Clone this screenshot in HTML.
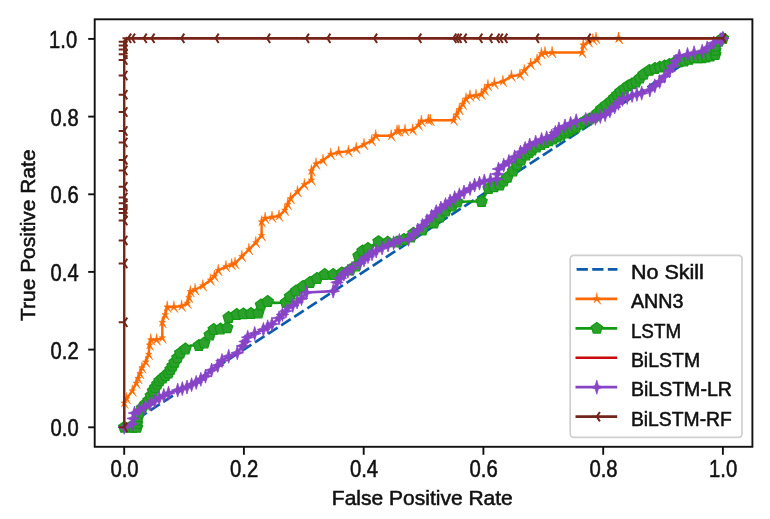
<!DOCTYPE html>
<html><head><meta charset="utf-8"><style>
html,body{margin:0;padding:0;background:#fff;}
body{width:770px;height:519px;overflow:hidden;font-family:"Liberation Sans",sans-serif;}
svg{display:block;filter:blur(0.35px);}
</style></head><body>
<svg width="770" height="519" viewBox="0 0 770 519">
<defs>
<polygon id="mStar" points="0.0,-6.2 0.9,-1.2 3.2,-1.1 1.4,0.5 4.0,5.5 0.0,1.5 -2.8,3.9 -1.4,0.5 -3.2,-1.1 -0.9,-1.2" fill="#ff6a00" stroke="#ff6a00" stroke-width="0.5" stroke-linejoin="round"/>
<polygon id="mPent" points="0.0,-5.9 5.6,-1.8 3.5,4.8 -3.5,4.8 -5.6,-1.8" fill="#2ca02c" stroke="#139a13" stroke-width="1.2"/>
<polygon id="mPlus" points="0,-7 1.6,-1.6 6.3,0 1.6,1.6 0,7 -1.6,1.6 -6.3,0 -1.6,-1.6" fill="#8844c6" stroke="#8844c6" stroke-width="0.8" stroke-linejoin="round"/>
<path id="mTriL" d="M0,0 L-5.5,0 M0,0 L3.1,-4.7 M0,0 L3.1,4.7" stroke="#72261a" stroke-width="2.0" fill="none"/>
</defs>
<rect width="770" height="519" fill="#fff"/>
<line x1="124.2" y1="427.3" x2="722.9" y2="38.3" stroke="#0d5bab" stroke-width="2.7" stroke-dasharray="11.3,4.3"/>
<polyline points="124.2,427.3 124.2,403.0 126.6,398.6 132.3,390.9 136.2,383.2 140.0,373.5 142.0,367.8 145.8,362.0 148.7,354.3 149.5,345.0 150.8,339.8 156.6,339.8 162.3,337.9 162.3,322.4 165.2,314.7 167.2,307.0 173.9,307.0 181.6,306.1 187.4,303.2 190.3,291.6 195.1,289.7 202.8,285.8 210.5,280.0 214.4,276.2 218.2,270.4 225.9,266.6 231.7,264.6 235.0,263.4 241.9,256.5 248.9,249.5 255.8,242.6 261.6,235.6 261.6,221.8 265.1,218.3 272.0,217.1 279.0,216.0 284.8,210.2 290.6,198.6 297.5,191.7 304.4,184.7 311.4,180.1 311.4,170.8 316.0,163.9 323.0,160.4 330.8,154.3 338.6,152.3 348.4,151.4 356.2,148.4 364.0,144.5 371.8,140.7 375.7,135.8 391.2,135.8 397.1,130.9 412.7,129.9 418.5,125.1 421.4,121.2 428.3,120.2 453.6,120.2 459.4,109.5 466.0,99.0 470.0,96.0 476.0,95.5 481.4,94.3 487.9,85.7 494.3,83.6 502.9,81.4 511.4,76.1 520.0,75.0 524.3,70.7 530.7,64.3 537.1,60.0 541.4,53.6 552.1,52.5 582.1,52.5 583.2,45.0 588.6,41.8 592.9,39.6 596.0,38.3 618.6,38.3 722.9,38.3" fill="none" stroke="#ff6a00" stroke-width="2.4" stroke-linejoin="round"/>
<use href="#mStar" x="124.2" y="427.3"/><use href="#mStar" x="124.2" y="403.0"/><use href="#mStar" x="126.6" y="398.6"/><use href="#mStar" x="132.3" y="390.9"/><use href="#mStar" x="136.2" y="383.2"/><use href="#mStar" x="138.1" y="378.4"/><use href="#mStar" x="140.0" y="373.5"/><use href="#mStar" x="142.0" y="367.8"/><use href="#mStar" x="145.8" y="362.0"/><use href="#mStar" x="148.7" y="354.3"/><use href="#mStar" x="149.5" y="345.0"/><use href="#mStar" x="150.8" y="339.8"/><use href="#mStar" x="156.6" y="339.8"/><use href="#mStar" x="162.3" y="337.9"/><use href="#mStar" x="162.3" y="322.4"/><use href="#mStar" x="165.2" y="314.7"/><use href="#mStar" x="167.2" y="307.0"/><use href="#mStar" x="173.9" y="307.0"/><use href="#mStar" x="181.6" y="306.1"/><use href="#mStar" x="187.4" y="303.2"/><use href="#mStar" x="188.9" y="297.4"/><use href="#mStar" x="190.3" y="291.6"/><use href="#mStar" x="195.1" y="289.7"/><use href="#mStar" x="202.8" y="285.8"/><use href="#mStar" x="210.5" y="280.0"/><use href="#mStar" x="214.4" y="276.2"/><use href="#mStar" x="218.2" y="270.4"/><use href="#mStar" x="225.9" y="266.6"/><use href="#mStar" x="231.7" y="264.6"/><use href="#mStar" x="235.0" y="263.4"/><use href="#mStar" x="241.9" y="256.5"/><use href="#mStar" x="248.9" y="249.5"/><use href="#mStar" x="255.8" y="242.6"/><use href="#mStar" x="261.6" y="235.6"/><use href="#mStar" x="261.6" y="221.8"/><use href="#mStar" x="265.1" y="218.3"/><use href="#mStar" x="272.0" y="217.1"/><use href="#mStar" x="279.0" y="216.0"/><use href="#mStar" x="284.8" y="210.2"/><use href="#mStar" x="287.7" y="204.4"/><use href="#mStar" x="290.6" y="198.6"/><use href="#mStar" x="297.5" y="191.7"/><use href="#mStar" x="304.4" y="184.7"/><use href="#mStar" x="311.4" y="180.1"/><use href="#mStar" x="311.4" y="170.8"/><use href="#mStar" x="316.0" y="163.9"/><use href="#mStar" x="323.0" y="160.4"/><use href="#mStar" x="330.8" y="154.3"/><use href="#mStar" x="338.6" y="152.3"/><use href="#mStar" x="348.4" y="151.4"/><use href="#mStar" x="356.2" y="148.4"/><use href="#mStar" x="364.0" y="144.5"/><use href="#mStar" x="371.8" y="140.7"/><use href="#mStar" x="375.7" y="135.8"/><use href="#mStar" x="391.2" y="135.8"/><use href="#mStar" x="397.1" y="130.9"/><use href="#mStar" x="412.7" y="129.9"/><use href="#mStar" x="418.5" y="125.1"/><use href="#mStar" x="421.4" y="121.2"/><use href="#mStar" x="428.3" y="120.2"/><use href="#mStar" x="453.6" y="120.2"/><use href="#mStar" x="456.5" y="114.8"/><use href="#mStar" x="459.4" y="109.5"/><use href="#mStar" x="462.7" y="104.2"/><use href="#mStar" x="466.0" y="99.0"/><use href="#mStar" x="470.0" y="96.0"/><use href="#mStar" x="476.0" y="95.5"/><use href="#mStar" x="481.4" y="94.3"/><use href="#mStar" x="484.6" y="90.0"/><use href="#mStar" x="487.9" y="85.7"/><use href="#mStar" x="494.3" y="83.6"/><use href="#mStar" x="502.9" y="81.4"/><use href="#mStar" x="511.4" y="76.1"/><use href="#mStar" x="520.0" y="75.0"/><use href="#mStar" x="524.3" y="70.7"/><use href="#mStar" x="530.7" y="64.3"/><use href="#mStar" x="537.1" y="60.0"/><use href="#mStar" x="541.4" y="53.6"/><use href="#mStar" x="552.1" y="52.5"/><use href="#mStar" x="582.1" y="52.5"/><use href="#mStar" x="583.2" y="45.0"/><use href="#mStar" x="588.6" y="41.8"/><use href="#mStar" x="592.9" y="39.6"/><use href="#mStar" x="596.0" y="38.3"/><use href="#mStar" x="618.6" y="38.3"/><use href="#mStar" x="722.9" y="38.3"/><use href="#mStar" x="430.3" y="120.2"/><use href="#mStar" x="399.0" y="130.9"/><use href="#mStar" x="405.0" y="130.4"/><use href="#mStar" x="545.0" y="52.5"/><use href="#mStar" x="618.6" y="38.3"/>
<polyline points="124.2,427.3 130.0,427.3 137.0,427.3 137.0,420.0 139.0,413.0 142.0,408.0 148.5,400.5 153.0,391.0 159.5,380.8 168.4,373.1 174.6,362.4 180.2,353.1 185.4,349.0 191.0,345.5 198.9,345.5 204.3,343.0 209.7,335.0 213.7,329.5 220.5,329.0 227.2,327.8 228.6,317.5 236.7,314.5 243.4,313.8 251.0,313.5 258.3,313.0 261.0,305.0 267.7,301.5 275.0,302.8 285.9,302.5 290.0,296.5 296.0,291.0 303.0,286.5 310.0,282.5 317.0,278.5 324.7,274.5 333.2,274.5 341.7,273.0 350.0,270.0 356.0,266.0 358.5,256.0 362.5,251.0 368.0,248.5 378.5,241.6 387.7,242.2 397.0,242.0 410.8,237.0 413.5,233.2 422.4,230.0 433.9,223.1 445.5,211.0 452.0,206.0 457.3,202.0 469.0,201.5 481.6,201.5 488.6,188.5 499.7,185.1 507.4,177.4 513.0,171.0 517.0,165.0 521.0,160.0 526.0,155.0 532.0,150.0 541.0,144.5 553.0,139.0 565.0,133.0 576.0,127.0 585.0,121.0 594.0,117.0 601.2,109.0 610.9,101.2 620.5,91.6 628.2,85.8 635.9,82.0 643.6,74.3 649.4,70.4 655.0,68.5 664.6,66.0 674.4,62.7 684.2,61.0 694.1,57.8 702.2,57.8 710.4,56.1 715.3,54.5 715.3,46.3 718.6,41.4 722.9,38.3" fill="none" stroke="#139a13" stroke-width="2.7" stroke-linejoin="round"/>
<use href="#mPent" x="124.2" y="427.3"/><use href="#mPent" x="130.0" y="427.3"/><use href="#mPent" x="133.5" y="427.3"/><use href="#mPent" x="137.0" y="427.3"/><use href="#mPent" x="137.0" y="423.6"/><use href="#mPent" x="137.0" y="420.0"/><use href="#mPent" x="138.0" y="416.5"/><use href="#mPent" x="139.0" y="413.0"/><use href="#mPent" x="142.0" y="408.0"/><use href="#mPent" x="145.2" y="404.2"/><use href="#mPent" x="148.5" y="400.5"/><use href="#mPent" x="150.8" y="395.8"/><use href="#mPent" x="153.0" y="391.0"/><use href="#mPent" x="155.2" y="387.6"/><use href="#mPent" x="157.3" y="384.2"/><use href="#mPent" x="159.5" y="380.8"/><use href="#mPent" x="162.5" y="378.2"/><use href="#mPent" x="165.4" y="375.7"/><use href="#mPent" x="168.4" y="373.1"/><use href="#mPent" x="170.5" y="369.5"/><use href="#mPent" x="172.5" y="366.0"/><use href="#mPent" x="174.6" y="362.4"/><use href="#mPent" x="177.4" y="357.8"/><use href="#mPent" x="180.2" y="353.1"/><use href="#mPent" x="185.4" y="349.0"/><use href="#mPent" x="198.9" y="345.5"/><use href="#mPent" x="204.3" y="343.0"/><use href="#mPent" x="209.7" y="335.0"/><use href="#mPent" x="213.7" y="329.5"/><use href="#mPent" x="220.5" y="329.0"/><use href="#mPent" x="227.2" y="327.8"/><use href="#mPent" x="228.6" y="317.5"/><use href="#mPent" x="236.7" y="314.5"/><use href="#mPent" x="243.4" y="313.8"/><use href="#mPent" x="251.0" y="313.5"/><use href="#mPent" x="258.3" y="313.0"/><use href="#mPent" x="261.0" y="305.0"/><use href="#mPent" x="267.7" y="301.5"/><use href="#mPent" x="285.9" y="302.5"/><use href="#mPent" x="290.0" y="296.5"/><use href="#mPent" x="296.0" y="291.0"/><use href="#mPent" x="303.0" y="286.5"/><use href="#mPent" x="310.0" y="282.5"/><use href="#mPent" x="317.0" y="278.5"/><use href="#mPent" x="324.7" y="274.5"/><use href="#mPent" x="333.2" y="274.5"/><use href="#mPent" x="341.7" y="273.0"/><use href="#mPent" x="350.0" y="270.0"/><use href="#mPent" x="356.0" y="266.0"/><use href="#mPent" x="358.5" y="256.0"/><use href="#mPent" x="362.5" y="251.0"/><use href="#mPent" x="368.0" y="248.5"/><use href="#mPent" x="378.5" y="241.6"/><use href="#mPent" x="387.7" y="242.2"/><use href="#mPent" x="397.0" y="242.0"/><use href="#mPent" x="403.9" y="239.5"/><use href="#mPent" x="410.8" y="237.0"/><use href="#mPent" x="413.5" y="233.2"/><use href="#mPent" x="422.4" y="230.0"/><use href="#mPent" x="433.9" y="223.1"/><use href="#mPent" x="439.7" y="217.1"/><use href="#mPent" x="445.5" y="211.0"/><use href="#mPent" x="452.0" y="206.0"/><use href="#mPent" x="457.3" y="202.0"/><use href="#mPent" x="481.6" y="201.5"/><use href="#mPent" x="488.6" y="188.5"/><use href="#mPent" x="494.1" y="186.8"/><use href="#mPent" x="499.7" y="185.1"/><use href="#mPent" x="503.5" y="181.2"/><use href="#mPent" x="507.4" y="177.4"/><use href="#mPent" x="513.0" y="171.0"/><use href="#mPent" x="517.0" y="165.0"/><use href="#mPent" x="521.0" y="160.0"/><use href="#mPent" x="526.0" y="155.0"/><use href="#mPent" x="529.0" y="152.5"/><use href="#mPent" x="532.0" y="150.0"/><use href="#mPent" x="536.5" y="147.2"/><use href="#mPent" x="541.0" y="144.5"/><use href="#mPent" x="545.0" y="142.7"/><use href="#mPent" x="549.0" y="140.8"/><use href="#mPent" x="553.0" y="139.0"/><use href="#mPent" x="557.0" y="137.0"/><use href="#mPent" x="561.0" y="135.0"/><use href="#mPent" x="565.0" y="133.0"/><use href="#mPent" x="568.7" y="131.0"/><use href="#mPent" x="572.3" y="129.0"/><use href="#mPent" x="576.0" y="127.0"/><use href="#mPent" x="580.5" y="124.0"/><use href="#mPent" x="585.0" y="121.0"/><use href="#mPent" x="589.5" y="119.0"/><use href="#mPent" x="594.0" y="117.0"/><use href="#mPent" x="597.6" y="113.0"/><use href="#mPent" x="601.2" y="109.0"/><use href="#mPent" x="606.0" y="105.1"/><use href="#mPent" x="610.9" y="101.2"/><use href="#mPent" x="614.1" y="98.0"/><use href="#mPent" x="617.3" y="94.8"/><use href="#mPent" x="620.5" y="91.6"/><use href="#mPent" x="624.4" y="88.7"/><use href="#mPent" x="628.2" y="85.8"/><use href="#mPent" x="632.0" y="83.9"/><use href="#mPent" x="635.9" y="82.0"/><use href="#mPent" x="639.8" y="78.2"/><use href="#mPent" x="643.6" y="74.3"/><use href="#mPent" x="649.4" y="70.4"/><use href="#mPent" x="655.0" y="68.5"/><use href="#mPent" x="659.8" y="67.2"/><use href="#mPent" x="664.6" y="66.0"/><use href="#mPent" x="669.5" y="64.3"/><use href="#mPent" x="674.4" y="62.7"/><use href="#mPent" x="679.3" y="61.9"/><use href="#mPent" x="684.2" y="61.0"/><use href="#mPent" x="689.2" y="59.4"/><use href="#mPent" x="694.1" y="57.8"/><use href="#mPent" x="698.2" y="57.8"/><use href="#mPent" x="702.2" y="57.8"/><use href="#mPent" x="706.3" y="57.0"/><use href="#mPent" x="710.4" y="56.1"/><use href="#mPent" x="715.3" y="54.5"/><use href="#mPent" x="715.3" y="50.4"/><use href="#mPent" x="715.3" y="46.3"/><use href="#mPent" x="718.6" y="41.4"/><use href="#mPent" x="722.9" y="38.3"/>
<polyline points="124.2,427.3 124.2,41.5" fill="none" stroke="#c80a0a" stroke-width="2.15"/>
<polyline points="124.2,41.5 128.0,38.3 722.9,38.3" fill="none" stroke="#c80a0a" stroke-width="2.6"/>
<polyline points="124.2,427.3 132.0,424.0 134.5,413.0 144.0,407.5 150.0,404.0 159.2,397.8 168.5,393.2 177.7,390.1 187.0,387.0 196.2,382.4 205.5,376.2 211.6,370.1 217.8,365.4 222.0,360.5 228.7,356.3 237.3,352.8 242.5,345.9 247.7,337.2 254.7,333.5 263.4,329.5 272.0,324.0 279.0,318.0 285.9,311.0 292.8,305.5 301.5,298.5 306.5,292.5 333.2,291.1 337.0,282.4 343.9,274.0 352.0,268.5 360.0,263.0 368.0,256.5 376.2,251.0 388.0,245.0 399.3,240.5 408.5,239.3 417.8,230.0 427.0,220.8 436.2,211.6 445.5,204.6 454.7,197.7 464.0,192.0 470.0,188.5 474.6,185.1 484.3,181.0 496.5,179.0 498.5,169.0 508.9,161.5 520.5,152.0 529.7,145.0 541.6,139.5 551.7,136.0 558.9,128.9 565.0,126.0 576.2,120.8 585.8,119.5 591.3,118.5 595.5,118.3 605.1,114.7 614.7,107.0 622.4,99.3 632.1,95.5 641.7,93.2 649.8,90.0 659.7,81.5 669.5,70.9 676.0,61.0 679.3,56.1 687.5,54.5 694.1,52.8 702.2,51.2 707.2,47.9 713.7,43.0 720.3,39.7 722.9,38.3" fill="none" stroke="#8844c6" stroke-width="2.7" stroke-linejoin="round"/>
<use href="#mPlus" x="124.2" y="427.3"/><use href="#mPlus" x="132.0" y="424.0"/><use href="#mPlus" x="133.2" y="418.5"/><use href="#mPlus" x="134.5" y="413.0"/><use href="#mPlus" x="139.2" y="410.2"/><use href="#mPlus" x="144.0" y="407.5"/><use href="#mPlus" x="150.0" y="404.0"/><use href="#mPlus" x="154.6" y="400.9"/><use href="#mPlus" x="159.2" y="397.8"/><use href="#mPlus" x="163.8" y="395.5"/><use href="#mPlus" x="168.5" y="393.2"/><use href="#mPlus" x="177.7" y="390.1"/><use href="#mPlus" x="182.3" y="388.6"/><use href="#mPlus" x="187.0" y="387.0"/><use href="#mPlus" x="191.6" y="384.7"/><use href="#mPlus" x="196.2" y="382.4"/><use href="#mPlus" x="200.8" y="379.3"/><use href="#mPlus" x="205.5" y="376.2"/><use href="#mPlus" x="211.6" y="370.1"/><use href="#mPlus" x="217.8" y="365.4"/><use href="#mPlus" x="222.0" y="360.5"/><use href="#mPlus" x="228.7" y="356.3"/><use href="#mPlus" x="237.3" y="352.8"/><use href="#mPlus" x="242.5" y="345.9"/><use href="#mPlus" x="245.1" y="341.5"/><use href="#mPlus" x="247.7" y="337.2"/><use href="#mPlus" x="254.7" y="333.5"/><use href="#mPlus" x="263.4" y="329.5"/><use href="#mPlus" x="267.7" y="326.8"/><use href="#mPlus" x="272.0" y="324.0"/><use href="#mPlus" x="279.0" y="318.0"/><use href="#mPlus" x="282.4" y="314.5"/><use href="#mPlus" x="285.9" y="311.0"/><use href="#mPlus" x="292.8" y="305.5"/><use href="#mPlus" x="297.1" y="302.0"/><use href="#mPlus" x="301.5" y="298.5"/><use href="#mPlus" x="306.5" y="292.5"/><use href="#mPlus" x="333.2" y="291.1"/><use href="#mPlus" x="337.0" y="282.4"/><use href="#mPlus" x="340.4" y="278.2"/><use href="#mPlus" x="343.9" y="274.0"/><use href="#mPlus" x="347.9" y="271.2"/><use href="#mPlus" x="352.0" y="268.5"/><use href="#mPlus" x="360.0" y="263.0"/><use href="#mPlus" x="364.0" y="259.8"/><use href="#mPlus" x="368.0" y="256.5"/><use href="#mPlus" x="372.1" y="253.8"/><use href="#mPlus" x="376.2" y="251.0"/><use href="#mPlus" x="382.1" y="248.0"/><use href="#mPlus" x="388.0" y="245.0"/><use href="#mPlus" x="393.6" y="242.8"/><use href="#mPlus" x="399.3" y="240.5"/><use href="#mPlus" x="408.5" y="239.3"/><use href="#mPlus" x="413.1" y="234.7"/><use href="#mPlus" x="417.8" y="230.0"/><use href="#mPlus" x="422.4" y="225.4"/><use href="#mPlus" x="427.0" y="220.8"/><use href="#mPlus" x="431.6" y="216.2"/><use href="#mPlus" x="436.2" y="211.6"/><use href="#mPlus" x="440.9" y="208.1"/><use href="#mPlus" x="445.5" y="204.6"/><use href="#mPlus" x="450.1" y="201.1"/><use href="#mPlus" x="454.7" y="197.7"/><use href="#mPlus" x="459.4" y="194.8"/><use href="#mPlus" x="464.0" y="192.0"/><use href="#mPlus" x="470.0" y="188.5"/><use href="#mPlus" x="474.6" y="185.1"/><use href="#mPlus" x="479.5" y="183.1"/><use href="#mPlus" x="484.3" y="181.0"/><use href="#mPlus" x="490.4" y="180.0"/><use href="#mPlus" x="496.5" y="179.0"/><use href="#mPlus" x="497.5" y="174.0"/><use href="#mPlus" x="498.5" y="169.0"/><use href="#mPlus" x="503.7" y="165.2"/><use href="#mPlus" x="508.9" y="161.5"/><use href="#mPlus" x="514.7" y="156.8"/><use href="#mPlus" x="520.5" y="152.0"/><use href="#mPlus" x="525.1" y="148.5"/><use href="#mPlus" x="529.7" y="145.0"/><use href="#mPlus" x="535.7" y="142.2"/><use href="#mPlus" x="541.6" y="139.5"/><use href="#mPlus" x="546.7" y="137.8"/><use href="#mPlus" x="551.7" y="136.0"/><use href="#mPlus" x="555.3" y="132.4"/><use href="#mPlus" x="558.9" y="128.9"/><use href="#mPlus" x="565.0" y="126.0"/><use href="#mPlus" x="570.6" y="123.4"/><use href="#mPlus" x="576.2" y="120.8"/><use href="#mPlus" x="585.8" y="119.5"/><use href="#mPlus" x="591.3" y="118.5"/><use href="#mPlus" x="595.5" y="118.3"/><use href="#mPlus" x="600.3" y="116.5"/><use href="#mPlus" x="605.1" y="114.7"/><use href="#mPlus" x="609.9" y="110.8"/><use href="#mPlus" x="614.7" y="107.0"/><use href="#mPlus" x="618.5" y="103.2"/><use href="#mPlus" x="622.4" y="99.3"/><use href="#mPlus" x="627.2" y="97.4"/><use href="#mPlus" x="632.1" y="95.5"/><use href="#mPlus" x="636.9" y="94.3"/><use href="#mPlus" x="641.7" y="93.2"/><use href="#mPlus" x="649.8" y="90.0"/><use href="#mPlus" x="654.8" y="85.8"/><use href="#mPlus" x="659.7" y="81.5"/><use href="#mPlus" x="664.6" y="76.2"/><use href="#mPlus" x="669.5" y="70.9"/><use href="#mPlus" x="672.8" y="66.0"/><use href="#mPlus" x="676.0" y="61.0"/><use href="#mPlus" x="679.3" y="56.1"/><use href="#mPlus" x="687.5" y="54.5"/><use href="#mPlus" x="694.1" y="52.8"/><use href="#mPlus" x="702.2" y="51.2"/><use href="#mPlus" x="707.2" y="47.9"/><use href="#mPlus" x="713.7" y="43.0"/><use href="#mPlus" x="720.3" y="39.7"/><use href="#mPlus" x="722.9" y="38.3"/>
<polyline points="124.2,427.3 124.2,41.5" fill="none" stroke="#72261a" stroke-width="2.0"/>
<polyline points="124.2,41.5 128.0,38.3 722.9,38.3" fill="none" stroke="#72261a" stroke-width="2.4"/>
<use href="#mTriL" x="124.2" y="427.3"/><use href="#mTriL" x="124.2" y="322.3"/><use href="#mTriL" x="124.2" y="263.5"/><use href="#mTriL" x="124.2" y="240.4"/><use href="#mTriL" x="124.2" y="220.6"/><use href="#mTriL" x="124.2" y="212.9"/><use href="#mTriL" x="124.2" y="209.0"/><use href="#mTriL" x="124.2" y="203.2"/><use href="#mTriL" x="124.2" y="197.4"/><use href="#mTriL" x="124.2" y="186.8"/><use href="#mTriL" x="124.2" y="170.5"/><use href="#mTriL" x="124.2" y="159.9"/><use href="#mTriL" x="124.2" y="142.5"/><use href="#mTriL" x="124.2" y="131.0"/><use href="#mTriL" x="124.2" y="112.0"/><use href="#mTriL" x="124.2" y="94.7"/><use href="#mTriL" x="124.2" y="75.5"/><use href="#mTriL" x="124.2" y="60.0"/><use href="#mTriL" x="124.2" y="54.3"/><use href="#mTriL" x="124.2" y="49.5"/><use href="#mTriL" x="124.2" y="45.6"/><use href="#mTriL" x="124.2" y="41.7"/><use href="#mTriL" x="128.0" y="38.3"/><use href="#mTriL" x="131.9" y="38.3"/><use href="#mTriL" x="143.6" y="38.3"/><use href="#mTriL" x="151.4" y="38.3"/><use href="#mTriL" x="181.2" y="38.3"/><use href="#mTriL" x="215.6" y="38.3"/><use href="#mTriL" x="267.0" y="38.3"/><use href="#mTriL" x="305.9" y="38.3"/><use href="#mTriL" x="327.3" y="38.3"/><use href="#mTriL" x="374.0" y="38.3"/><use href="#mTriL" x="418.2" y="38.3"/><use href="#mTriL" x="453.2" y="38.3"/><use href="#mTriL" x="455.8" y="38.3"/><use href="#mTriL" x="458.4" y="38.3"/><use href="#mTriL" x="463.5" y="38.3"/><use href="#mTriL" x="479.2" y="38.3"/><use href="#mTriL" x="489.2" y="38.3"/><use href="#mTriL" x="496.4" y="38.3"/><use href="#mTriL" x="499.7" y="38.3"/><use href="#mTriL" x="504.2" y="38.3"/><use href="#mTriL" x="535.8" y="38.3"/><use href="#mTriL" x="587.5" y="38.3"/><use href="#mTriL" x="722.9" y="38.3"/>
<rect x="94.7" y="19.3" width="657.6999999999999" height="427.5" fill="none" stroke="#111" stroke-width="1.9"/>
<line x1="124.2" y1="446.8" x2="124.2" y2="454.8" stroke="#111" stroke-width="1.9"/>
<text x="124.5" y="477.2" font-family="Liberation Sans, sans-serif" fill="#111" stroke="#111" stroke-width="0.55" font-size="23" text-anchor="middle" textLength="28.2" lengthAdjust="spacingAndGlyphs">0.0</text>
<line x1="88.2" y1="427.3" x2="94.7" y2="427.3" stroke="#111" stroke-width="1.9"/>
<text x="78.6" y="436.2" font-family="Liberation Sans, sans-serif" fill="#111" stroke="#111" stroke-width="0.55" font-size="23" text-anchor="end" textLength="28.0" lengthAdjust="spacingAndGlyphs">0.0</text>
<line x1="243.9" y1="446.8" x2="243.9" y2="454.8" stroke="#111" stroke-width="1.9"/>
<text x="244.2" y="477.2" font-family="Liberation Sans, sans-serif" fill="#111" stroke="#111" stroke-width="0.55" font-size="23" text-anchor="middle" textLength="28.2" lengthAdjust="spacingAndGlyphs">0.2</text>
<line x1="88.2" y1="349.6" x2="94.7" y2="349.6" stroke="#111" stroke-width="1.9"/>
<text x="78.6" y="358.5" font-family="Liberation Sans, sans-serif" fill="#111" stroke="#111" stroke-width="0.55" font-size="23" text-anchor="end" textLength="28.0" lengthAdjust="spacingAndGlyphs">0.2</text>
<line x1="363.7" y1="446.8" x2="363.7" y2="454.8" stroke="#111" stroke-width="1.9"/>
<text x="364.0" y="477.2" font-family="Liberation Sans, sans-serif" fill="#111" stroke="#111" stroke-width="0.55" font-size="23" text-anchor="middle" textLength="28.2" lengthAdjust="spacingAndGlyphs">0.4</text>
<line x1="88.2" y1="271.9" x2="94.7" y2="271.9" stroke="#111" stroke-width="1.9"/>
<text x="78.6" y="280.8" font-family="Liberation Sans, sans-serif" fill="#111" stroke="#111" stroke-width="0.55" font-size="23" text-anchor="end" textLength="28.0" lengthAdjust="spacingAndGlyphs">0.4</text>
<line x1="483.4" y1="446.8" x2="483.4" y2="454.8" stroke="#111" stroke-width="1.9"/>
<text x="483.7" y="477.2" font-family="Liberation Sans, sans-serif" fill="#111" stroke="#111" stroke-width="0.55" font-size="23" text-anchor="middle" textLength="28.2" lengthAdjust="spacingAndGlyphs">0.6</text>
<line x1="88.2" y1="194.3" x2="94.7" y2="194.3" stroke="#111" stroke-width="1.9"/>
<text x="78.6" y="203.2" font-family="Liberation Sans, sans-serif" fill="#111" stroke="#111" stroke-width="0.55" font-size="23" text-anchor="end" textLength="28.0" lengthAdjust="spacingAndGlyphs">0.6</text>
<line x1="603.2" y1="446.8" x2="603.2" y2="454.8" stroke="#111" stroke-width="1.9"/>
<text x="603.5" y="477.2" font-family="Liberation Sans, sans-serif" fill="#111" stroke="#111" stroke-width="0.55" font-size="23" text-anchor="middle" textLength="28.2" lengthAdjust="spacingAndGlyphs">0.8</text>
<line x1="88.2" y1="116.6" x2="94.7" y2="116.6" stroke="#111" stroke-width="1.9"/>
<text x="78.6" y="125.5" font-family="Liberation Sans, sans-serif" fill="#111" stroke="#111" stroke-width="0.55" font-size="23" text-anchor="end" textLength="28.0" lengthAdjust="spacingAndGlyphs">0.8</text>
<line x1="722.9" y1="446.8" x2="722.9" y2="454.8" stroke="#111" stroke-width="1.9"/>
<text x="723.2" y="477.2" font-family="Liberation Sans, sans-serif" fill="#111" stroke="#111" stroke-width="0.55" font-size="23" text-anchor="middle" textLength="28.2" lengthAdjust="spacingAndGlyphs">1.0</text>
<line x1="88.2" y1="38.9" x2="94.7" y2="38.9" stroke="#111" stroke-width="1.9"/>
<text x="77.1" y="47.8" font-family="Liberation Sans, sans-serif" fill="#111" stroke="#111" stroke-width="0.55" font-size="23" text-anchor="end" textLength="28.0" lengthAdjust="spacingAndGlyphs">1.0</text>
<text x="422.3" y="505" font-family="Liberation Sans, sans-serif" fill="#111" stroke="#111" stroke-width="0.55" font-size="21" text-anchor="middle" textLength="181" lengthAdjust="spacingAndGlyphs">False Positive Rate</text>
<text transform="translate(35.4,235.2) rotate(-90)" font-family="Liberation Sans, sans-serif" fill="#111" stroke="#111" stroke-width="0.55" font-size="21" text-anchor="middle" textLength="171.5" lengthAdjust="spacingAndGlyphs">True Positive Rate</text>
<rect x="570.2" y="255.3" width="171.8" height="182.0" rx="3.5" fill="#fff" fill-opacity="0.8" stroke="#cfcfcf" stroke-width="1.7"/>
<line x1="576.6" y1="269.4" x2="617.5" y2="269.4" stroke="#0d5bab" stroke-width="2.7" stroke-dasharray="11.3,4.3"/>
<text x="630.9" y="279.0" font-family="Liberation Sans, sans-serif" fill="#111" stroke="#111" stroke-width="0.55" font-size="21" textLength="73" lengthAdjust="spacingAndGlyphs">No Skill</text>
<line x1="575.5" y1="298.84999999999997" x2="617.2" y2="298.84999999999997" stroke="#ff6a00" stroke-width="2.7"/>
<use href="#mStar" x="596.8" y="298.84999999999997"/>
<text x="630.9" y="308.4" font-family="Liberation Sans, sans-serif" fill="#111" stroke="#111" stroke-width="0.55" font-size="21" textLength="52.5" lengthAdjust="spacingAndGlyphs">ANN3</text>
<line x1="575.5" y1="328.29999999999995" x2="617.2" y2="328.29999999999995" stroke="#139a13" stroke-width="2.7"/>
<use href="#mPent" x="596.8" y="328.29999999999995"/>
<text x="630.9" y="337.7" font-family="Liberation Sans, sans-serif" fill="#111" stroke="#111" stroke-width="0.55" font-size="21" textLength="50.2" lengthAdjust="spacingAndGlyphs">LSTM</text>
<line x1="575.5" y1="357.75" x2="617.2" y2="357.75" stroke="#c80a0a" stroke-width="2.7"/>
<text x="630.9" y="367.1" font-family="Liberation Sans, sans-serif" fill="#111" stroke="#111" stroke-width="0.55" font-size="21" textLength="69.2" lengthAdjust="spacingAndGlyphs">BiLSTM</text>
<line x1="575.5" y1="387.2" x2="617.2" y2="387.2" stroke="#8844c6" stroke-width="2.7"/>
<use href="#mPlus" x="596.8" y="387.2"/>
<text x="630.9" y="396.4" font-family="Liberation Sans, sans-serif" fill="#111" stroke="#111" stroke-width="0.55" font-size="21" textLength="101" lengthAdjust="spacingAndGlyphs">BiLSTM-LR</text>
<line x1="575.5" y1="416.65" x2="617.2" y2="416.65" stroke="#72261a" stroke-width="2.7"/>
<use href="#mTriL" x="596.8" y="416.65"/>
<text x="630.9" y="425.8" font-family="Liberation Sans, sans-serif" fill="#111" stroke="#111" stroke-width="0.55" font-size="21" textLength="101" lengthAdjust="spacingAndGlyphs">BiLSTM-RF</text>
</svg>
</body></html>
